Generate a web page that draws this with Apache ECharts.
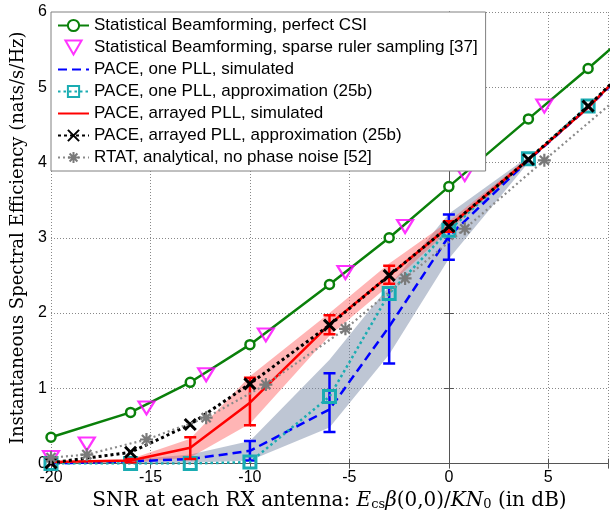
<!DOCTYPE html>
<html>
<head>
<meta charset="utf-8">
<script src="https://cdn.jsdelivr.net/npm/echarts@6/dist/echarts.min.js"></script>
<style>
html, body { margin: 0; padding: 0; background: #fff; }
#main { width: 611px; height: 516px; }
</style>
</head>
<body>
<div id="main"></div>
<script>
// SNR grid of the simulated curves and of the offset (ruler / RTAT) markers
var snrSim = [-20, -16, -13, -10, -6, -3, 0, 4, 7, 10];
var snrRuler = [-20, -18.2, -15.2, -12.2, -9.2, -5.2, -2.2, 0.8, 4.8];
var snrRtat = [-20, -18.2, -15.2, -12.2, -9.2, -5.2, -2.2, 0.8, 4.8, 10];

var perfectCsi = [0.35, 0.68, 1.08, 1.58, 2.38, 3.0, 3.68, 4.58, 5.25, 5.94];
var sparseRuler = [0.08, 0.26, 0.74, 1.18, 1.71, 2.54, 3.15, 3.84, 4.75];
var onePllSim = [0.0, 0.03, 0.06, 0.17, 0.72, 1.82, 3.02, 4.03, 4.73, 5.5];
var onePllApprox = [0.0, 0.0, 0.0, 0.02, 0.89, 2.26, 3.10, 4.05, 4.75, 5.5];
var arrayedSim = [0.02, 0.04, 0.21, 0.81, 1.85, 2.50, 3.15, 4.04, 4.73, 5.54];
var arrayedApprox = [0.01, 0.15, 0.52, 1.06, 1.84, 2.50, 3.15, 4.04, 4.75, 5.52];
var rtat = [0.08, 0.12, 0.32, 0.61, 1.05, 1.79, 2.46, 3.12, 4.03, 5.2];

// error bars
var blueErrX = [-10, -6, -3, 0];
var blueErrLo = [0.04, 0.42, 1.33, 2.71];
var blueErrHi = [0.30, 1.20, 2.34, 3.31];
var redErrX = [-16, -13, -10, -6, -3, 0];
var redErrLo = [0.01, 0.06, 0.51, 1.72, 2.39, 3.08];
var redErrHi = [0.06, 0.35, 1.14, 1.97, 2.63, 3.22];

// shaded bands
var redBandX = [-16, -13, -10, -6, -3, 0, 4];
var redBandLo = [0.01, 0.08, 0.53, 1.70, 2.37, 3.10, 4.01];
var redBandHi = [0.06, 0.33, 1.16, 2.00, 2.66, 3.22, 4.07];
var blueBandX = [-20, -16, -13, -10, -6, -3, 0, 4];
var blueBandLo = [0, 0, 0.01, 0.04, 0.48, 1.45, 2.72, 4.0];
var blueBandHi = [0, 0.05, 0.12, 0.3, 1.38, 2.36, 3.32, 4.08];

var xTicks = { min: -20, max: 8, interval: 5 };
var yTicks = { min: 0, max: 6, interval: 1 };

var names = [
  "Statistical Beamforming, perfect CSI",
  "Statistical Beamforming, sparse ruler sampling [37]",
  "PACE, one PLL, simulated",
  "PACE, one PLL, approximation (25b)",
  "PACE, arrayed PLL, simulated",
  "PACE, arrayed PLL, approximation (25b)",
  "RTAT, analytical, no phase noise [52]"
];

function pairs(xs, ys) {
  return ys.map(function (y, i) { return [xs[i], y]; });
}
function triples(xs, lo, hi) {
  return xs.map(function (x, i) { return [x, lo[i], hi[i]]; });
}

function errorBarItem(color) {
  return function (params, api) {
    var x = api.value(0);
    var lo = api.coord([x, api.value(1)]);
    var hi = api.coord([x, api.value(2)]);
    var half = 6;
    var style = { stroke: color, lineWidth: 2.5 };
    return {
      type: "group",
      children: [
        { type: "line", shape: { x1: lo[0], y1: lo[1], x2: hi[0], y2: hi[1] }, style: style },
        { type: "line", shape: { x1: lo[0] - half, y1: lo[1], x2: lo[0] + half, y2: lo[1] }, style: style },
        { type: "line", shape: { x1: hi[0] - half, y1: hi[1], x2: hi[0] + half, y2: hi[1] }, style: style }
      ]
    };
  };
}

function bandItem(xs, lo, hi, color) {
  return function (params, api) {
    if (params.dataIndex !== 0) return null;
    var pts = [];
    for (var i = 0; i < xs.length; i++) pts.push(api.coord([xs[i], lo[i]]));
    for (var j = xs.length - 1; j >= 0; j--) pts.push(api.coord([xs[j], hi[j]]));
    return { type: "polygon", shape: { points: pts }, style: { fill: color } };
  };
}

var crossPath = "path://M0,0L10,10M0,10L10,0";
var starPath = "path://M5,0L5,10M0,5L10,5M1.5,1.5L8.5,8.5M1.5,8.5L8.5,1.5";
var squarePath = "path://M0,0L10,0L10,10L0,10Z";
var triPath = "path://M0,0L10,0L5,8.66Z";

var tickFont = { fontFamily: "Liberation Sans", fontSize: 16, color: "#000" };
var frameColor = "#555";

var myChart = echarts.init(document.getElementById("main"));
var option = {
  animation: false,
  backgroundColor: "#fff",
  grid: { left: 51, right: 1, top: 12, bottom: 48 },
  legend: {
    data: [
      names[0],
      names[1],
      { name: names[2], itemStyle: { opacity: 0 } },
      names[3],
      { name: names[4], itemStyle: { opacity: 0 } },
      names[5],
      names[6]
    ],
    orient: "vertical",
    left: 51,
    top: 12,
    padding: [5, 8, 5, 6],
    itemWidth: 31,
    itemHeight: 14,
    itemGap: 5,
    backgroundColor: "#fff",
    borderColor: "#808080",
    borderWidth: 1,
    selectedMode: false,
    textStyle: { fontFamily: "Liberation Sans", fontSize: 17, color: "#000" }
  },
  xAxis: [
    {
      type: "value",
      min: xTicks.min, max: xTicks.max, interval: xTicks.interval,
      name: "SNR at each RX antenna: {i|E}{sub|cs}{i|β}(0,0)/{i|KN}{sub|0} (in dB)",
      nameLocation: "middle",
      nameGap: 18,
      nameTextStyle: {
        fontFamily: "DejaVu Serif", fontSize: 20, color: "#000",
        verticalAlign: "top",
        rich: {
          i: { fontFamily: "DejaVu Serif", fontStyle: "italic", fontSize: 20, color: "#000" },
          sub: { fontFamily: "DejaVu Serif", fontSize: 13, color: "#000", verticalAlign: "bottom", padding: [8, 0, 0, 0] }
        }
      },
      axisLine: { lineStyle: { color: frameColor } },
      axisTick: { inside: true, length: 5, lineStyle: { color: frameColor } },
      axisLabel: Object.assign({
        margin: 6,
        formatter: function (v) { return v === xTicks.max ? "" : String(v); }
      }, tickFont),
      splitLine: { lineStyle: { color: "#888", type: [1, 2] } }
    },
    {
      type: "value", position: "top",
      min: xTicks.min, max: xTicks.max, interval: xTicks.interval,
      axisLine: { lineStyle: { color: frameColor } },
      axisTick: { inside: true, length: 5, lineStyle: { color: frameColor } },
      axisLabel: { show: false },
      splitLine: { show: false }
    }
  ],
  yAxis: [
    {
      type: "value",
      min: yTicks.min, max: yTicks.max, interval: yTicks.interval,
      name: "Instantaneous Spectral Efficiency (nats/s/Hz)",
      nameLocation: "middle",
      nameGap: 22,
      nameTextStyle: { fontFamily: "DejaVu Serif", fontSize: 18, color: "#000" },
      axisLine: { show: true, lineStyle: { color: frameColor } },
      axisTick: { show: true, inside: true, length: 5, lineStyle: { color: frameColor } },
      axisLabel: Object.assign({ margin: 4 }, tickFont),
      splitLine: { lineStyle: { color: "#888", type: [1, 2] } }
    },
    {
      type: "value", position: "right",
      min: yTicks.min, max: yTicks.max, interval: yTicks.interval,
      axisLine: { show: true, lineStyle: { color: frameColor } },
      axisTick: { show: true, inside: true, length: 5, lineStyle: { color: frameColor } },
      axisLabel: { show: false },
      splitLine: { show: false }
    }
  ],
  series: [
    {
      type: "custom", name: "blueBand", z: 1, clip: true,
      renderItem: bandItem(blueBandX, blueBandLo, blueBandHi, "rgba(110,128,160,0.45)"),
      encode: { x: 0, y: [1, 2] },
      data: triples(blueBandX, blueBandLo, blueBandHi)
    },
    {
      type: "custom", name: "redBand", z: 1, clip: true,
      renderItem: bandItem(redBandX, redBandLo, redBandHi, "rgba(255,90,90,0.45)"),
      encode: { x: 0, y: [1, 2] },
      data: triples(redBandX, redBandLo, redBandHi)
    },
    {
      name: names[0], type: "line", z: 3, clip: true,
      data: pairs(snrSim, perfectCsi),
      symbol: "circle", symbolSize: 9,
      itemStyle: { color: "#fff", borderColor: "#0a800a", borderWidth: 2.5 },
      lineStyle: { color: "#0a800a", width: 2.5 }
    },
    {
      name: names[1], type: "scatter", z: 3, clip: true,
      data: pairs(snrRuler, sparseRuler),
      symbol: triPath, symbolSize: [16, 13],
      itemStyle: { color: "rgba(255,255,255,0)", borderColor: "#ff00ff", borderWidth: 2.2 }
    },
    {
      name: names[2], type: "line", z: 4, clip: true,
      data: pairs(snrSim, onePllSim),
      showSymbol: false, symbol: "none",
      itemStyle: { color: "#0000ff" },
      lineStyle: { color: "#0000ff", width: 2.5, type: [9, 5] }
    },
    {
      type: "custom", name: "blueErr", z: 4, clip: true,
      renderItem: errorBarItem("#0000ff"),
      encode: { x: 0, y: [1, 2] },
      data: triples(blueErrX, blueErrLo, blueErrHi)
    },
    {
      name: names[3], type: "line", z: 5, clip: true,
      data: pairs(snrSim, onePllApprox),
      symbol: squarePath, symbolSize: 12,
      itemStyle: { color: "rgba(255,255,255,0)", borderColor: "#1aacb2", borderWidth: 3 },
      lineStyle: { color: "#1aacb2", width: 2.5, type: [2.5, 3] }
    },
    {
      name: names[4], type: "line", z: 6, clip: true,
      data: pairs(snrSim, arrayedSim),
      showSymbol: false, symbol: "none",
      itemStyle: { color: "#ff0000" },
      lineStyle: { color: "#ff0000", width: 2.5 }
    },
    {
      type: "custom", name: "redErr", z: 6, clip: true,
      renderItem: errorBarItem("#ff0000"),
      encode: { x: 0, y: [1, 2] },
      data: triples(redErrX, redErrLo, redErrHi)
    },
    {
      name: names[5], type: "line", z: 7, clip: true,
      data: pairs(snrSim, arrayedApprox),
      symbol: crossPath, symbolSize: 11,
      itemStyle: { color: "rgba(0,0,0,0)", borderColor: "#000", borderWidth: 3 },
      lineStyle: { color: "#000", width: 3, type: [3, 3] }
    },
    {
      name: names[6], type: "line", z: 8, clip: true,
      data: pairs(snrRtat, rtat),
      symbol: starPath, symbolSize: 13,
      itemStyle: { color: "rgba(0,0,0,0)", borderColor: "#7a7a7a", borderWidth: 2.2 },
      lineStyle: { color: "#8a8a8a", width: 2.2, type: [2, 3] }
    }
  ]
};
myChart.setOption(option);
</script>
</body>
</html>
